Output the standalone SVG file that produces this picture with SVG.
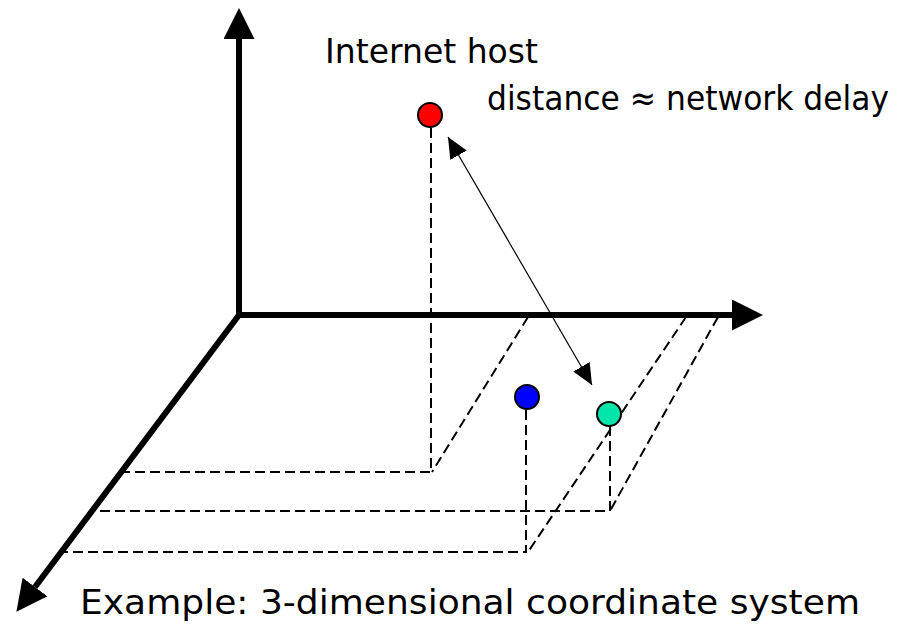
<svg xmlns="http://www.w3.org/2000/svg" width="922" height="629" viewBox="0 0 922 629">
<defs>
<marker id="big" markerWidth="31" markerHeight="31" viewBox="0 0 31 31" refX="0" refY="15.5" orient="auto" markerUnits="userSpaceOnUse">
<path d="M0,0 L31,15.5 L0,31 Z" fill="#000"/>
</marker>
<marker id="small" markerWidth="21" markerHeight="19" viewBox="0 0 21 19" refX="21" refY="9.5" orient="auto-start-reverse" markerUnits="userSpaceOnUse">
<path d="M0,0 L21,9.5 L0,19 Z" fill="#000"/>
</marker>
</defs>
<style>
.axis{stroke:#000;stroke-width:6;fill:none}
.dash{stroke:#000;stroke-width:2;fill:none;stroke-dasharray:10,5}
.node{stroke:#000;stroke-width:2}
text{font-family:"DejaVu Sans",Verdana,sans-serif;font-size:34px;fill:#000}
</style>
<rect width="922" height="629" fill="#fff"/>
<g id="connectors">
<path class="dash" d="M431,128 V472 H124"/>
<path class="dash" d="M528,317 L432,472"/>
<path class="dash" d="M610,426 V511 H93"/>
<path class="dash" d="M718,317 L610,511"/>
<path class="dash" d="M526,410 V552 H62"/>
<path class="dash" d="M686,317 L528,552"/>
<line class="axis" x1="239" y1="315" x2="239" y2="39" marker-end="url(#big)"/>
<line class="axis" x1="239" y1="315" x2="732" y2="315" marker-end="url(#big)"/>
<line class="axis" x1="239" y1="315" x2="35" y2="587" marker-end="url(#big)"/>
<line x1="448" y1="137" x2="592" y2="385" stroke="#000" stroke-width="1.2" marker-start="url(#small)" marker-end="url(#small)"/>
</g>
<g id="host"><circle class="node" cx="430" cy="115" r="12" fill="#ff0000"/></g>
<g id="blue"><circle class="node" cx="527" cy="397" r="12" fill="#0000ff"/></g>
<g id="green"><circle class="node" cx="609" cy="414" r="12" fill="#00e6aa"/></g>
<g id="labels">
<text x="325" y="63" textLength="213" lengthAdjust="spacingAndGlyphs">Internet host</text>
<text x="487" y="110" textLength="402" lengthAdjust="spacingAndGlyphs">distance ≈ network delay</text>
<text x="80" y="614" textLength="780" lengthAdjust="spacingAndGlyphs">Example: 3-dimensional coordinate system</text>
</g>
</svg>
